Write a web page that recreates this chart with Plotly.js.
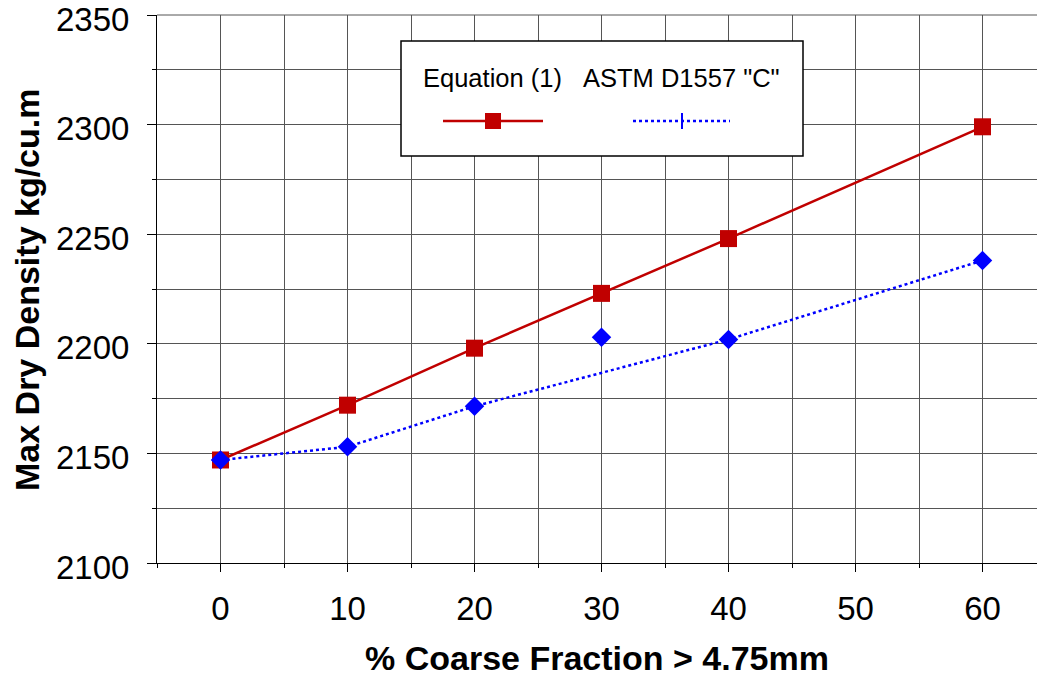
<!DOCTYPE html>
<html>
<head>
<meta charset="utf-8">
<script src="https://cdn.plot.ly/plotly-3.0.1.min.js"></script>
<style>html,body{margin:0;padding:0;background:#fff;}#chart{width:1037px;height:677px;}</style>
</head>
<body>
<div id="chart"></div>
<script>
// Data
const coarseFraction = [0, 10, 20, 30, 40, 60];
const equation1 = [2147, 2172, 2198, 2223, 2248, 2299];
const astmX = [0, 10, 20, 30, 40, 60];
const astmY = [2147, 2153, 2171.5, 2203, 2202, 2238];
// the dotted ASTM line in the reference does not pass through the 30% point
const astmLineSkip = [30];
const seriesNames = ['Equation (1)', 'ASTM D1557 "C"'];
const yTickVals = [2100, 2150, 2200, 2250, 2300, 2350];
const xTitle = '% Coarse Fraction > 4.75mm';
const yTitle = 'Max Dry Density kg/cu.m';

const lineX = astmX.filter(x => !astmLineSkip.includes(x));
const lineY = astmY.filter((y, i) => !astmLineSkip.includes(astmX[i]));

const FONT = 'Liberation Sans, Arial, sans-serif';

const traces = [
  {x: coarseFraction, y: equation1, mode: 'lines+markers', name: seriesNames[0],
   line: {color: '#C00000', width: 2.5},
   marker: {symbol: 'square', size: 17, color: '#C00000'}},
  {x: lineX, y: lineY, mode: 'lines', name: seriesNames[1],
   line: {color: '#0000FF', width: 2.5, dash: 'dot'}, hoverinfo: 'skip'},
  {x: astmX, y: astmY, mode: 'markers', name: seriesNames[1],
   marker: {symbol: 'diamond', size: 15, color: '#0000FF'}}
];

function px2x(p){ return (p - 157) / 880; }
function px2y(p){ return (563 - p) / 548; }

const yLabelAnns = yTickVals.map(v => ({
  xref: 'paper', yref: 'y', x: 0, y: v, xshift: -26, yshift: -4,
  text: String(v), showarrow: false, xanchor: 'right', yanchor: 'middle',
  font: {size: 33, family: FONT, color: '#000'}
}));

const layout = {
  width: 1037, height: 677,
  margin: {l: 157, r: 0, t: 15, b: 114},
  paper_bgcolor: '#fff', plot_bgcolor: '#fff',
  showlegend: false,
  font: {family: FONT, color: '#000', size: 33},
  xaxis: {
    range: [-5, 64.29], dtick: 10, tick0: 0,
    showgrid: true, gridcolor: '#555', gridwidth: 1,
    showline: true, linecolor: '#000', linewidth: 1, mirror: false,
    ticks: 'outside', ticklen: 8, tickcolor: '#000',
    minor: {dtick: 5, tick0: 0, showgrid: true, gridcolor: '#555', gridwidth: 1, ticks: 'outside', ticklen: 4, tickcolor: '#000'},
    tickfont: {size: 33, family: FONT},
    ticklabelstandoff: 8,
    zeroline: false,
    title: {text: xTitle, font: {size: 34, family: FONT, weight: 'bold'}, standoff: 20}
  },
  yaxis: {
    range: [2100, 2350], tickvals: yTickVals,
    showgrid: true, gridcolor: '#555', gridwidth: 1,
    showline: true, linecolor: '#000', linewidth: 1,
    ticks: 'outside', ticklen: 9, tickcolor: '#000',
    minor: {dtick: 25, showgrid: true, gridcolor: '#555', gridwidth: 1, ticks: 'outside', ticklen: 4, tickcolor: '#000'},
    showticklabels: false,
    zeroline: false
  },
  shapes: [
    {type: 'line', xref: 'paper', yref: 'paper', x0: 0, x1: 1, y0: 1, y1: 1, line: {color: '#555', width: 1}},
    {type: 'rect', xref: 'paper', yref: 'paper', x0: px2x(401), x1: px2x(803), y0: px2y(156), y1: px2y(41),
     fillcolor: '#fff', line: {color: '#000', width: 1.5}, layer: 'above'},
    {type: 'line', xref: 'paper', yref: 'paper', x0: px2x(443), x1: px2x(543), y0: px2y(121), y1: px2y(121),
     line: {color: '#C00000', width: 2.5}, layer: 'above'},
    {type: 'rect', xref: 'paper', yref: 'paper', x0: px2x(485), x1: px2x(501), y0: px2y(129), y1: px2y(113),
     fillcolor: '#C00000', line: {width: 0}, layer: 'above'},
    {type: 'line', xref: 'paper', yref: 'paper', x0: px2x(633), x1: px2x(730), y0: px2y(121), y1: px2y(121),
     line: {color: '#0000FF', width: 2.5, dash: 'dot'}, layer: 'above'},
    {type: 'line', xref: 'paper', yref: 'paper', x0: px2x(682), x1: px2x(682), y0: px2y(129), y1: px2y(113),
     line: {color: '#0000FF', width: 2}, layer: 'above'}
  ],
  annotations: yLabelAnns.concat([
    {xref: 'paper', yref: 'paper', x: px2x(27), y: px2y(290), text: yTitle, showarrow: false, textangle: -90,
     font: {size: 34, family: FONT, weight: 'bold', color: '#000'}, xanchor: 'center', yanchor: 'middle'},
    {xref: 'paper', yref: 'paper', x: px2x(492), y: px2y(78), text: seriesNames[0], showarrow: false,
     font: {size: 25.5, family: FONT}, xanchor: 'center', yanchor: 'middle'},
    {xref: 'paper', yref: 'paper', x: px2x(681), y: px2y(78), text: seriesNames[1], showarrow: false,
     font: {size: 25.5, family: FONT}, xanchor: 'center', yanchor: 'middle'}
  ])
};

Plotly.newPlot('chart', traces, layout, {displayModeBar: false, staticPlot: true});
</script>
</body>
</html>
